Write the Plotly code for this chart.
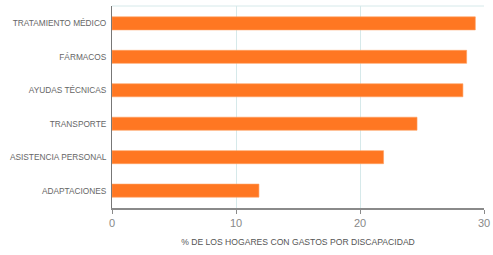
import plotly.graph_objects as go

categories = ["TRATAMIENTO MÉDICO", "FÁRMACOS", "AYUDAS TÉCNICAS", "TRANSPORTE",
              "ASISTENCIA PERSONAL", "ADAPTACIONES"]
values = [29.3, 28.6, 28.3, 24.6, 21.9, 11.85]
x_ticks = [0, 10, 20, 30]
x_title = "% DE LOS HOGARES CON GASTOS POR DISCAPACIDAD"

font_family = "Liberation Sans, Arial, sans-serif"

fig = go.Figure(go.Bar(
    x=values, y=categories, orientation="h",
    marker=dict(color="#ff7722", line=dict(color="#ffa060", width=0.6)),
    hoverinfo="x+y",
))

fig.update_layout(
    width=493, height=255,
    margin=dict(l=112, r=9, t=6, b=47, autoexpand=False),
    paper_bgcolor="white", plot_bgcolor="white",
    bargap=0.61,
    showlegend=False,
    font=dict(family=font_family, color="#555555"),
    shapes=[dict(type="line", xref="paper", yref="paper", x0=0, x1=1, y0=1, y1=1,
                 line=dict(color="#d6e9ea", width=1), layer="below")],
)

fig.update_xaxes(
    range=[0, 30], tickvals=x_ticks, ticktext=[str(t) for t in x_ticks],
    showgrid=True, gridcolor="#d6e9ea", gridwidth=1,
    zeroline=False,
    showline=True, linecolor="#8a8a8a", linewidth=1.5,
    ticks="outside", ticklen=4, tickcolor="#8a8a8a", tickwidth=1,
    tickfont=dict(size=11, color="#888888"),
    title=dict(text=x_title, font=dict(size=8.6, color="#555555"), standoff=11),
    automargin=False,
    fixedrange=True,
)

fig.update_yaxes(
    categoryorder="array", categoryarray=categories[::-1],
    range=[-0.52, 5.52],
    showgrid=False, zeroline=False,
    showline=True, linecolor="#777777", linewidth=1,
    ticks="", ticklabelstandoff=3,
    tickfont=dict(size=8.3, color="#666666"),
    automargin=False,
    fixedrange=True,
)

fig.write_html("out.html")
